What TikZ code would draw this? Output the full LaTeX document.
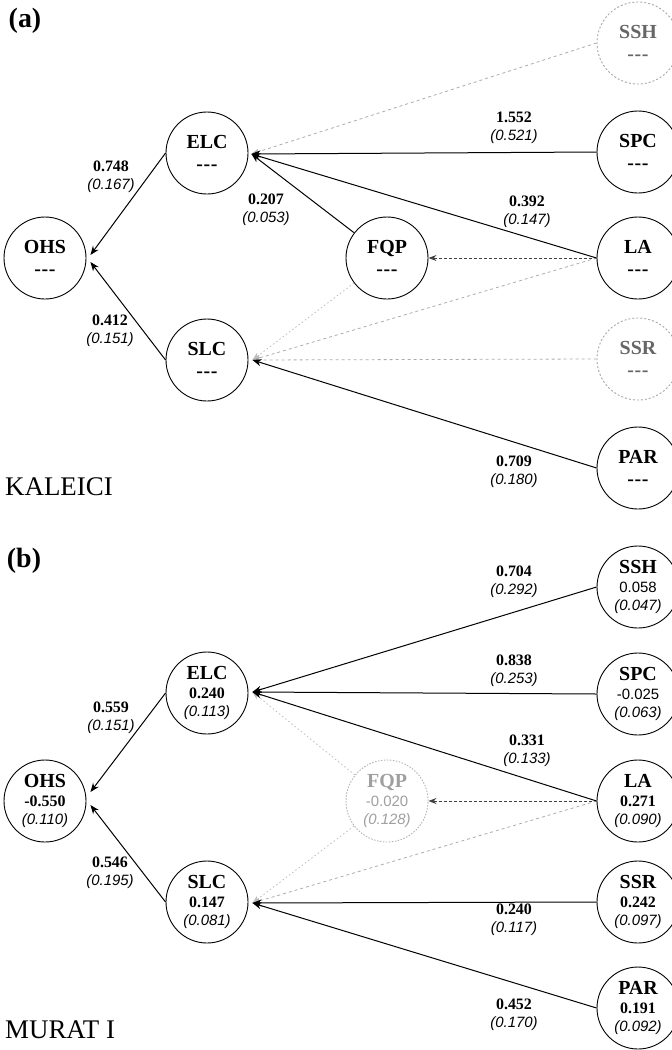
\documentclass[tikz,border=0pt]{standalone}
\usepackage{fontspec}
\setmainfont{Liberation Serif}
\newfontfamily\labsans{Liberation Sans}
\usetikzlibrary{arrows.meta,calc}
\newcommand\mytitle[1]{{\fontsize{20}{20}\selectfont\bfseries #1}}
\newcommand\nodash{{\fontsize{20}{20}\selectfont\bfseries -\kern0.6pt-\kern0.6pt-}}
\newcommand\valb[1]{{\fontsize{16}{19}\selectfont\bfseries #1}}
\newcommand\valr[1]{{\fontsize{15}{19}\selectfont\labsans #1}}
\newcommand\vali[1]{{\fontsize{15}{19}\selectfont\labsans\itshape #1}}
\tikzset{
  var/.style={circle, draw, line width=0.9bp, minimum size=82bp, inner sep=0pt, align=center,
    font=\fontsize{18}{22}\selectfont},
  varb/.style={var, font=\fontsize{15}{19}\selectfont},
  ghost/.style={draw=gray!70, dash pattern=on 2bp off 2bp, text=gray!80!black},
  ghostb/.style={draw=gray!60, dash pattern=on 1.5bp off 1.5bp, text=gray!75},
  lab/.style={align=center, inner sep=0pt, font=\fontsize{15}{18}\selectfont},
  sol/.style={line width=1bp, -{Stealth[length=9bp,width=7bp]}},
  dk/.style={line width=0.9bp, draw=black!75, dash pattern=on 3bp off 2bp, -{Stealth[length=8bp,width=6bp]}},
  dgray/.style={line width=0.8bp, draw=gray!65, dash pattern=on 3bp off 3bp, -{Stealth[length=8bp,width=6bp]}},
  dotg/.style={line width=0.8bp, draw=gray!50, dash pattern=on 1.5bp off 2.5bp, -{Stealth[length=8bp,width=6bp]}},
  panel/.style={inner sep=0pt, font=\fontsize{28}{28}\selectfont\bfseries},
  site/.style={inner sep=0pt, anchor=base west, font=\fontsize{27}{27}\selectfont},
}
\begin{document}
\begin{tikzpicture}[x=1bp,y=-1bp]
\useasboundingbox (0,0) rectangle (672,1050);
% ---------------- panel (a)
\node[panel] (pa) at (25,21) {(a)};
\node[site] (ka) at (5,495) {KALEICI};
\node[var] (aOHS) at (45,258) {\mytitle{OHS}\\\nodash};
\node[var] (aELC) at (207,153) {\mytitle{ELC}\\\nodash};
\node[var] (aSLC) at (207,360) {\mytitle{SLC}\\\nodash};
\node[var] (aFQP) at (387,258) {\mytitle{FQP}\\\nodash};
\node[var,ghost] (aSSH) at (638,43) {\mytitle{SSH}\\\nodash};
\node[var] (aSPC) at (638,152) {\mytitle{SPC}\\\nodash};
\node[var] (aLA) at (638,258) {\mytitle{LA}\\\nodash};
\node[var,ghost] (aSSR) at (638,359) {\mytitle{SSR}\\\nodash};
\node[var] (aPAR) at (638,468) {\mytitle{PAR}\\\nodash};
\coordinate (aELCin) at ($(aELC.east)+(3,1)$);
\coordinate (aSLCin) at ($(aSLC.east)+(4,0)$);
\coordinate (aOHSa) at ($(aOHS.east)+(4,-3)$);
\coordinate (aOHSb) at ($(aOHS.east)+(4,4)$);
\draw[dgray] (aSSH.west) -- (aELCin);
\draw[dk] (aLA.west) -- (aFQP);
\draw[dgray] (aLA.west) -- (aSLCin);
\draw[dotg] (aFQP) -- (aSLCin);
\draw[dgray] (aSSR.west) -- (aSLCin);
\draw[sol] (aELC.west) -- (aOHSa);
\draw[sol] (aSLC.west) -- (aOHSb);
\draw[sol] (aSPC.west) -- (aELCin);
\draw[sol] (aLA.west) -- (aELCin);
\draw[sol] (aFQP) -- (aELCin);
\draw[sol] (aPAR.west) -- (aSLCin);
\node[lab] (a1) at (111,177) {\valb{0.748}\\\vali{(0.167)}};
\node[lab] (a2) at (110,331) {\valb{0.412}\\\vali{(0.151)}};
\node[lab] (a3) at (266,210) {\valb{0.207}\\\vali{(0.053)}};
\node[lab] (a4) at (514,128) {\valb{1.552}\\\vali{(0.521)}};
\node[lab] (a5) at (527,212) {\valb{0.392}\\\vali{(0.147)}};
\node[lab] (a6) at (514,472) {\valb{0.709}\\\vali{(0.180)}};
% ---------------- panel (b)
\node[panel] (pb) at (24,561) {(b)};
\node[site] (kb) at (5,1038) {MURAT I};
\node[varb] (bOHS) at (45,801) {\mytitle{OHS}\\\valb{-0.550}\\\vali{(0.110)}};
\node[varb] (bELC) at (207,693) {\mytitle{ELC}\\\valb{0.240}\\\vali{(0.113)}};
\node[varb] (bSLC) at (207,902) {\mytitle{SLC}\\\valb{0.147}\\\vali{(0.081)}};
\node[varb,ghostb] (bFQP) at (387,801) {\mytitle{FQP}\\\valr{-0.020}\\\vali{(0.128)}};
\node[varb] (bSSH) at (638,587) {\mytitle{SSH}\\\valr{0.058}\\\vali{(0.047)}};
\node[varb] (bSPC) at (638,694) {\mytitle{SPC}\\\valr{-0.025}\\\vali{(0.063)}};
\node[varb] (bLA) at (638,801) {\mytitle{LA}\\\valb{0.271}\\\vali{(0.090)}};
\node[varb] (bSSR) at (638,902) {\mytitle{SSR}\\\valb{0.242}\\\vali{(0.097)}};
\node[varb] (bPAR) at (638,1008) {\mytitle{PAR}\\\valb{0.191}\\\vali{(0.092)}};
\coordinate (bELCin) at ($(bELC.east)+(4,-1)$);
\coordinate (bSLCin) at ($(bSLC.east)+(4,1)$);
\coordinate (bOHSa) at ($(bOHS.east)+(4,-9)$);
\coordinate (bOHSb) at ($(bOHS.east)+(4,4)$);
\draw[dotg] (bFQP) -- (bELCin);
\draw[dk] (bLA.west) -- (bFQP);
\draw[dgray] (bLA.west) -- (bSLCin);
\draw[dotg] (bFQP) -- (bSLCin);
\draw[sol] (bELC.west) -- (bOHSa);
\draw[sol] (bSLC.west) -- (bOHSb);
\draw[sol] (bSSH.west) -- (bELCin);
\draw[sol] (bSPC.west) -- (bELCin);
\draw[sol] (bLA.west) -- (bELCin);
\draw[sol] (bSSR.west) -- (bSLCin);
\draw[sol] (bPAR.west) -- (bSLCin);
\node[lab] (b1) at (111,718) {\valb{0.559}\\\vali{(0.151)}};
\node[lab] (b2) at (110,873) {\valb{0.546}\\\vali{(0.195)}};
\node[lab] (b3) at (514,582) {\valb{0.704}\\\vali{(0.292)}};
\node[lab] (b4) at (514,671) {\valb{0.838}\\\vali{(0.253)}};
\node[lab] (b5) at (527,751) {\valb{0.331}\\\vali{(0.133)}};
\node[lab] (b6) at (514,920) {\valb{0.240}\\\vali{(0.117)}};
\node[lab] (b7) at (514,1015) {\valb{0.452}\\\vali{(0.170)}};
\end{tikzpicture}
\end{document}
